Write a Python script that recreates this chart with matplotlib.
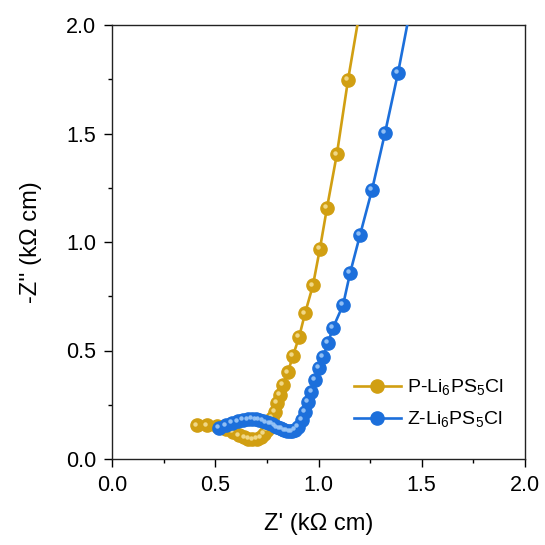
import matplotlib
matplotlib.use("Agg")
import matplotlib.pyplot as plt
from matplotlib import transforms

plt.rcParams['font.family'] = ['Liberation Sans', 'DejaVu Sans']
plt.rcParams['mathtext.fontset'] = 'custom'
plt.rcParams['mathtext.rm'] = 'Liberation Sans'

# P-Li6PS5Cl
p_x = [0.41, 0.46, 0.51, 0.55, 0.585, 0.615, 0.64, 0.66, 0.68, 0.70, 0.72, 0.735,
       0.75, 0.762, 0.775, 0.787, 0.799, 0.813, 0.828, 0.852, 0.876, 0.906, 0.935,
       0.973, 1.007, 1.041, 1.089, 1.143, 1.215]
p_y = [0.155, 0.155, 0.15, 0.14, 0.125, 0.11, 0.10, 0.093, 0.09, 0.092, 0.10, 0.115,
       0.135, 0.16, 0.19, 0.217, 0.258, 0.295, 0.341, 0.40, 0.475, 0.562, 0.672,
       0.800, 0.970, 1.157, 1.405, 1.747, 2.15]

# Z-Li6PS5Cl
z_x = [0.518, 0.55, 0.581, 0.61, 0.634, 0.657, 0.678, 0.695, 0.712, 0.73, 0.746,
       0.762, 0.775, 0.788, 0.799, 0.812, 0.823, 0.835, 0.847, 0.86, 0.872, 0.886,
       0.90, 0.92, 0.935, 0.949, 0.965, 0.983, 1.00, 1.022, 1.046, 1.070, 1.119,
       1.153, 1.201, 1.259, 1.322, 1.385, 1.46]
z_y = [0.143, 0.155, 0.166, 0.174, 0.18, 0.183, 0.184, 0.183, 0.18, 0.176, 0.17,
       0.165, 0.161, 0.154, 0.147, 0.142, 0.138, 0.133, 0.129, 0.127, 0.128, 0.134,
       0.148, 0.18, 0.217, 0.263, 0.309, 0.364, 0.419, 0.47, 0.535, 0.604, 0.710,
       0.857, 1.032, 1.240, 1.502, 1.779, 2.15]

labels = ['P-Li$_6$PS$_5$Cl', 'Z-Li$_6$PS$_5$Cl']
ticks = [0.0, 0.5, 1.0, 1.5, 2.0]
tick_labels = ['0.0', '0.5', '1.0', '1.5', '2.0']
minor_ticks = [0.25, 0.75, 1.25, 1.75]

gold = '#D19F12'
gold_hi = '#F4DE94'
blue = '#1C6FDB'
blue_hi = '#9CC8F7'

fig = plt.figure(figsize=(5.45, 5.45), dpi=100)
ax = fig.add_axes([112/545, 1-459/545, 413/545, 434/545])

hi_tr = transforms.offset_copy(ax.transData, fig=fig, x=-1.6, y=1.6, units='dots')

handles = []
for i, (xs, ys, c, ch) in enumerate([(p_x, p_y, gold, gold_hi), (z_x, z_y, blue, blue_hi)]):
    z = 3 + 2 * i
    ln, = ax.plot(xs, ys, '-', color=c, lw=1.9, marker='o', ms=9.5,
                  mec=c, mfc=c, zorder=z)
    ax.plot(xs, ys, 'o', color=ch, ms=3.2, mec='none', alpha=0.9,
            transform=hi_tr, zorder=z + 1)
    handles.append(ln)

ax.set_xlim(0, 2.0)
ax.set_ylim(0, 2.0)
ax.set_xticks(ticks)
ax.set_yticks(ticks)
ax.set_xticks(minor_ticks, minor=True)
ax.set_yticks(minor_ticks, minor=True)
ax.set_xticklabels(tick_labels)
ax.set_yticklabels(tick_labels)
ax.tick_params(which='major', direction='out', length=5.5, width=1, labelsize=15.5,
               top=False, right=False, pad=6)
ax.tick_params(which='minor', direction='out', length=2.8, width=1, top=False, right=False)
for s in ax.spines.values():
    s.set_linewidth(1.0)
    s.set_color('#222222')

ax.set_xlabel("Z' (k\u03a9 cm)", fontsize=17, labelpad=12)
ax.set_ylabel("-Z'' (k\u03a9 cm)", fontsize=17, labelpad=17)

ax.legend(handles, labels, loc='lower right', bbox_to_anchor=(0.98, 0.035),
          frameon=False, fontsize=14, handlelength=2.4, handletextpad=0.3,
          labelspacing=0.6, borderaxespad=0.3)

fig.savefig('out.png', dpi=100)
